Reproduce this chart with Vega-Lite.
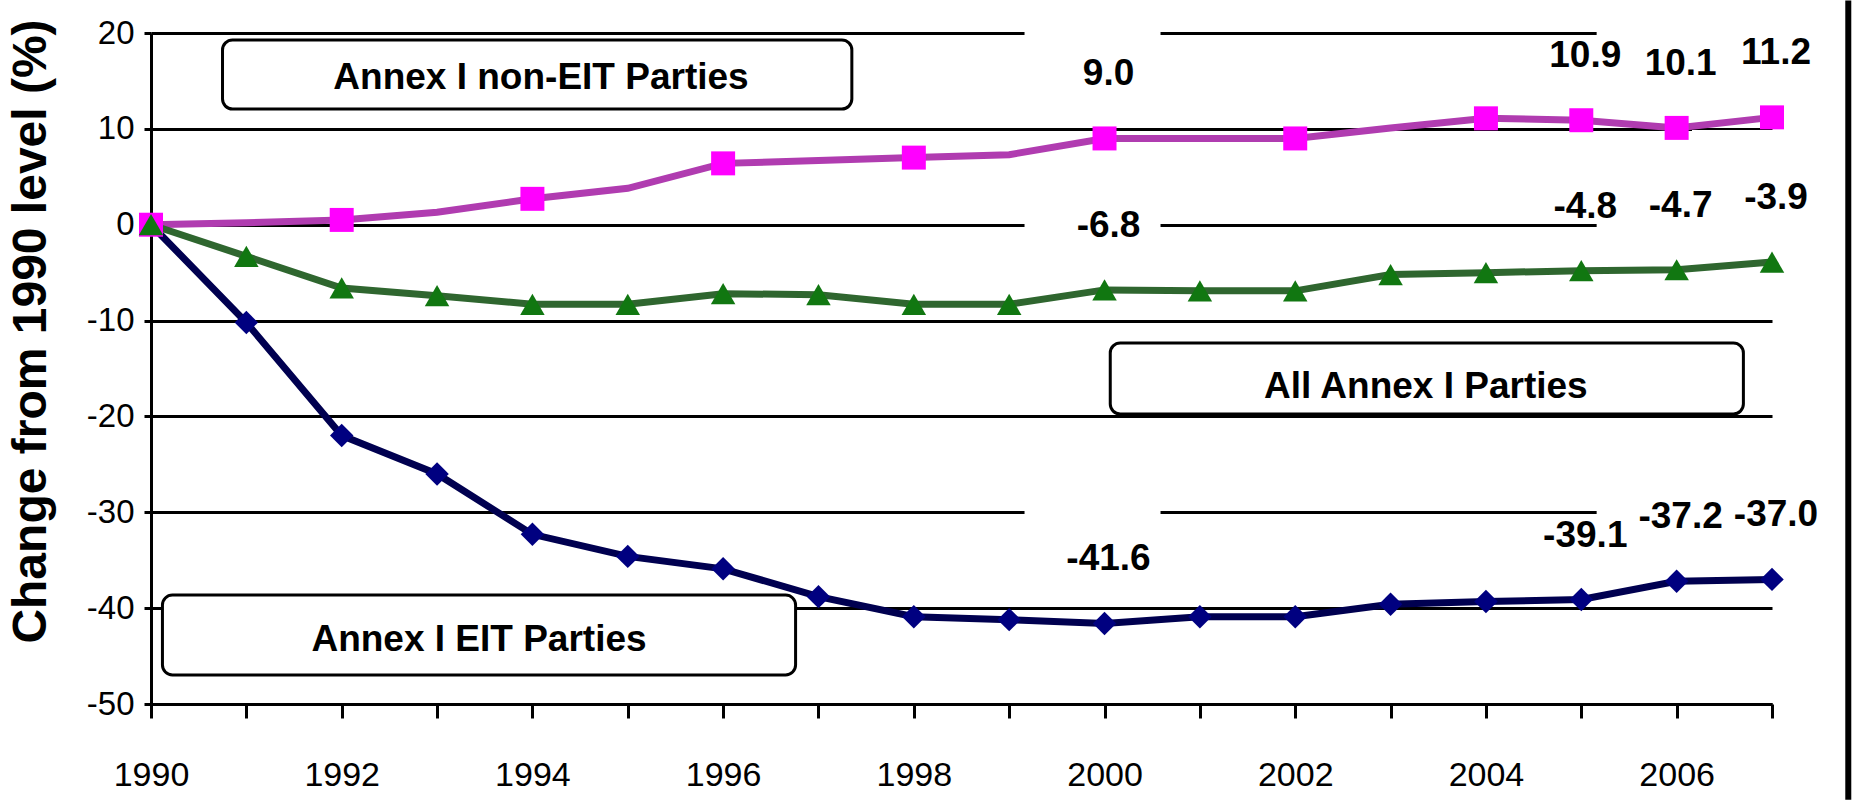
{
  "$schema": "https://vega.github.io/schema/vega-lite/v6.json",
  "width": 1621,
  "height": 671,
  "autosize": {"type": "none"},
  "padding": {"left": 151, "top": 33, "right": 84, "bottom": 96},
  "background": "white",
  "config": {
    "view": {"stroke": null},
    "font": "Liberation Sans",
    "locale": {"number": {"decimal": ".", "thousands": ",", "grouping": [3], "currency": ["$", ""], "minus": "-"}}
  },
  "datasets": {
    "series": [
      {"year": 1990, "series": "EIT", "value": 0},
      {"year": 1991, "series": "EIT", "value": -10.2},
      {"year": 1992, "series": "EIT", "value": -22.0},
      {"year": 1993, "series": "EIT", "value": -26.0},
      {"year": 1994, "series": "EIT", "value": -32.3},
      {"year": 1995, "series": "EIT", "value": -34.6},
      {"year": 1996, "series": "EIT", "value": -35.9},
      {"year": 1997, "series": "EIT", "value": -38.8},
      {"year": 1998, "series": "EIT", "value": -40.9},
      {"year": 1999, "series": "EIT", "value": -41.2},
      {"year": 2000, "series": "EIT", "value": -41.6},
      {"year": 2001, "series": "EIT", "value": -40.9},
      {"year": 2002, "series": "EIT", "value": -40.9},
      {"year": 2003, "series": "EIT", "value": -39.6},
      {"year": 2004, "series": "EIT", "value": -39.3},
      {"year": 2005, "series": "EIT", "value": -39.1},
      {"year": 2006, "series": "EIT", "value": -37.2},
      {"year": 2007, "series": "EIT", "value": -37.0},
      {"year": 1990, "series": "non-EIT", "value": 0},
      {"year": 1991, "series": "non-EIT", "value": 0.2},
      {"year": 1992, "series": "non-EIT", "value": 0.5},
      {"year": 1993, "series": "non-EIT", "value": 1.3},
      {"year": 1994, "series": "non-EIT", "value": 2.7},
      {"year": 1995, "series": "non-EIT", "value": 3.8},
      {"year": 1996, "series": "non-EIT", "value": 6.4},
      {"year": 1997, "series": "non-EIT", "value": 6.7},
      {"year": 1998, "series": "non-EIT", "value": 7.0},
      {"year": 1999, "series": "non-EIT", "value": 7.3},
      {"year": 2000, "series": "non-EIT", "value": 9.0},
      {"year": 2001, "series": "non-EIT", "value": 9.0},
      {"year": 2002, "series": "non-EIT", "value": 9.0},
      {"year": 2003, "series": "non-EIT", "value": 10.1},
      {"year": 2004, "series": "non-EIT", "value": 11.1},
      {"year": 2005, "series": "non-EIT", "value": 10.9},
      {"year": 2006, "series": "non-EIT", "value": 10.1},
      {"year": 2007, "series": "non-EIT", "value": 11.2},
      {"year": 1990, "series": "All", "value": 0},
      {"year": 1991, "series": "All", "value": -3.3},
      {"year": 1992, "series": "All", "value": -6.6},
      {"year": 1993, "series": "All", "value": -7.4},
      {"year": 1994, "series": "All", "value": -8.3},
      {"year": 1995, "series": "All", "value": -8.3},
      {"year": 1996, "series": "All", "value": -7.2},
      {"year": 1997, "series": "All", "value": -7.3},
      {"year": 1998, "series": "All", "value": -8.3},
      {"year": 1999, "series": "All", "value": -8.3},
      {"year": 2000, "series": "All", "value": -6.8},
      {"year": 2001, "series": "All", "value": -6.9},
      {"year": 2002, "series": "All", "value": -6.9},
      {"year": 2003, "series": "All", "value": -5.2},
      {"year": 2004, "series": "All", "value": -5.0},
      {"year": 2005, "series": "All", "value": -4.8},
      {"year": 2006, "series": "All", "value": -4.7},
      {"year": 2007, "series": "All", "value": -3.9}
    ],
    "boxes": [
      {"year": 1990.75, "year2": 1997.35, "value": 19.27, "value2": 12.07, "tx": 1994.09, "ty": 15.3, "text": "Annex I non-EIT Parties"},
      {"year": 2000.06, "year2": 2006.7, "value": -12.34, "value2": -19.75, "tx": 2003.37, "ty": -16.93, "text": "All Annex I Parties"},
      {"year": 1990.12, "year2": 1996.76, "value": -38.63, "value2": -46.97, "tx": 1993.44, "ty": -43.32, "text": "Annex I EIT Parties"}
    ],
    "frame": [{"fx": 2007.8, "fy": 23.4, "fy2": -60.0}]
  },
  "encoding": {
    "x": {"field": "year", "type": "quantitative", "title": null,
      "scale": {"domain": [1990, 2007], "nice": false, "zero": false},
      "axis": {"values": [1990,1991,1992,1993,1994,1995,1996,1997,1998,1999,2000,2001,2002,2003,2004,2005,2006,2007],
        "labelExpr": "datum.value % 2 == 0 ? datum.value : ''", "grid": false, "domainColor": "black", "domainWidth": 3,
        "tickColor": "black", "tickWidth": 3, "tickSize": 14, "labelFont": "Liberation Sans", "labelFontSize": 34,
        "labelColor": "black", "labelPadding": 40, "labelFlush": false, "labelOverlap": false}},
    "y": {"field": "value", "type": "quantitative", "title": "Change from 1990 level (%)",
      "scale": {"domain": [-50, 20], "nice": false, "zero": false},
      "axis": {"values": [-50,-40,-30,-20,-10,0,10,20], "grid": true, "gridColor": "black",
        "gridWidth": 3, "gridOpacity": 1, "domainColor": "black", "domainWidth": 3, "tickColor": "black", "tickWidth": 3,
        "tickSize": 7, "labelFont": "Liberation Sans", "labelFontSize": 33, "labelColor": "black", "labelPadding": 10,
        "titleFont": "Liberation Sans", "titleFontWeight": "bold", "titleFontSize": 48, "titleColor": "black",
        "titleX": -120, "titleY": 298, "titleAngle": 270, "titleAlign": "center", "titleBaseline": "middle"}}
  },
  "layer": [
    {
      "data": {"name": "boxes"},
      "mark": {"type": "rect", "fill": "white", "stroke": "black", "strokeWidth": 3, "cornerRadius": 10},
      "encoding": {
        "x2": {"field": "year2"},
        "y2": {"field": "value2"}
      }
    },
    {
      "data": {"name": "series"},
      "transform": [{"filter": {"field": "year", "oneOf": [2000, 2006, 2007]}}],
      "mark": {"type": "point", "shape": "M-1,-1H1V0.5H-1Z", "filled": true, "color": "white", "fill": "white", "opacity": 1, "strokeWidth": 0, "size": 18496, "yOffset": -64, "xOffset": -12}
    },
    {
      "data": {"name": "series"},
      "mark": {"type": "line", "strokeWidth": 7},
      "encoding": {
        "stroke": {"field": "series", "type": "nominal", "scale": {"domain": ["EIT", "non-EIT", "All"], "range": ["#000050", "#b03cb0", "#2f662f"]}, "legend": null},
        "order": {"field": "year"}
      }
    },
    {
      "data": {"name": "series"},
      "transform": [{"filter": "datum.series != 'non-EIT' || datum.year % 2 == 0 || datum.year >= 2004"}],
      "mark": {"type": "point", "filled": true, "opacity": 1, "strokeWidth": 0},
      "encoding": {
        "fill": {"field": "series", "type": "nominal", "scale": {"domain": ["EIT", "non-EIT", "All"], "range": ["#000080", "#ff00ff", "#117711"]}, "legend": null},
        "shape": {"field": "series", "type": "nominal", "scale": {"domain": ["EIT", "non-EIT", "All"], "range": ["diamond", "square", "triangle-up"]}, "legend": null},
        "size": {"field": "series", "type": "nominal", "scale": {"domain": ["EIT", "non-EIT", "All"], "range": [550, 600, 450]}, "legend": null}
      }
    },
    {
      "data": {"name": "series"},
      "transform": [{"filter": {"field": "year", "oneOf": [2000, 2005, 2006, 2007]}}],
      "mark": {"type": "text", "font": "Liberation Sans", "fontWeight": "bold", "fontSize": 37, "color": "black", "baseline": "middle", "align": "center", "dy": -64, "dx": 4},
      "encoding": {
        "text": {"field": "value", "type": "quantitative", "format": ".1f"}
      }
    },
    {
      "data": {"name": "boxes"},
      "mark": {"type": "text", "font": "Liberation Sans", "fontWeight": "bold", "fontSize": 37, "color": "black", "baseline": "middle", "align": "center"},
      "encoding": {
        "x": {"field": "tx", "type": "quantitative", "title": null},
        "y": {"field": "ty", "type": "quantitative", "title": "Change from 1990 level (%)"},
        "text": {"field": "text", "type": "nominal"}
      }
    },
    {
      "data": {"name": "frame"},
      "mark": {"type": "rule", "color": "black", "strokeWidth": 6},
      "encoding": {
        "x": {"field": "fx", "type": "quantitative", "title": null},
        "y": {"field": "fy", "type": "quantitative", "title": "Change from 1990 level (%)"},
        "y2": {"field": "fy2"}
      }
    }
  ]
}
